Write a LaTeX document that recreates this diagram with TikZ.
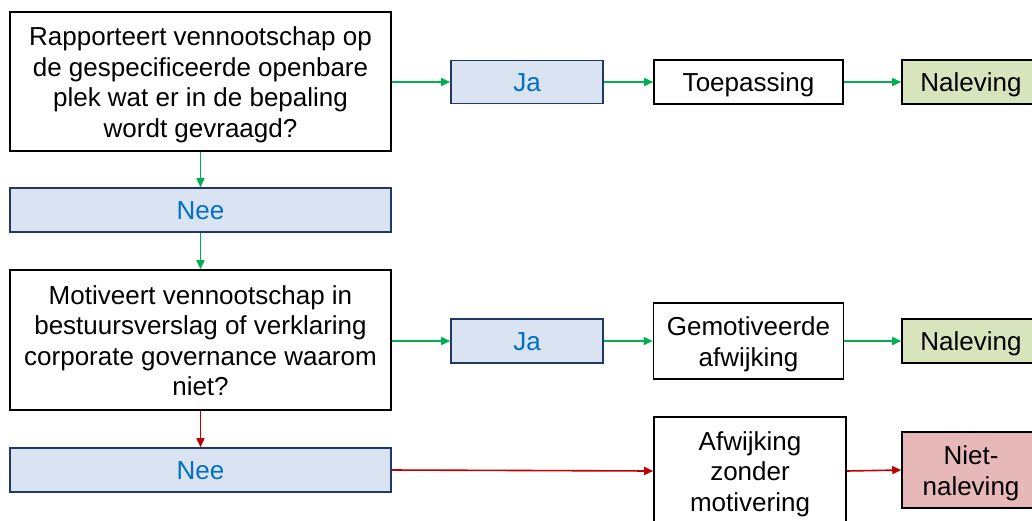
\documentclass[tikz,border=0pt]{standalone}
\usepackage{fontspec}
\setmainfont{Liberation Sans}
\usetikzlibrary{arrows.meta}
\definecolor{boxblue}{RGB}{218,227,242}
\definecolor{navy}{RGB}{31,56,100}
\definecolor{txtblue}{RGB}{0,112,192}
\definecolor{okgreen}{RGB}{216,228,188}
\definecolor{badred}{RGB}{230,184,183}
\definecolor{arrgreen}{RGB}{0,176,80}
\definecolor{arrred}{RGB}{192,0,0}
\newcommand{\tstrut}{\rule{0pt}{25pt}}
\newcommand{\bstrut}{\rule[-5.5pt]{0pt}{5.5pt}}
\tikzset{
  base/.style={draw, rectangle, line width=1.6pt, inner sep=2pt, align=center,
    font=\fontsize{26}{30.5}\selectfont},
  question/.style={base, fill=white, minimum width=381pt},
  answer/.style={base, draw=navy, fill=boxblue, text=txtblue},
  result/.style={base, fill=white},
  good/.style={base, fill=okgreen},
  bad/.style={base, fill=badred},
  garr/.style={-{Triangle[length=9pt,width=8pt]}, draw=arrgreen, line width=1.6pt},
  rarr/.style={-{Triangle[length=9pt,width=8pt]}, draw=arrred, line width=1.6pt},
}
\begin{document}
\begin{tikzpicture}[x=1pt,y=-1pt]
\useasboundingbox (0,0) rectangle (1032,520);
\begin{scope}
\clip (0,0) rectangle (1032,520);
\node[question, minimum height=139pt] (q1) at (200.5,81.5) {\tstrut Rapporteert vennootschap op\\de gespecificeerde openbare\\plek wat er in de bepaling\\wordt gevraagd?\bstrut};
\node[answer, minimum width=152pt, minimum height=43pt] (ja1) at (527,82) {\tstrut Ja\bstrut};
\node[result, minimum width=189pt, minimum height=44pt] (toep) at (748.5,82) {\tstrut Toepassing\bstrut};
\node[good, minimum width=138pt, minimum height=44pt] (nal1) at (971,82) {\tstrut Naleving\bstrut};
\node[answer, minimum width=381pt, minimum height=44pt] (nee1) at (200.5,210) {\tstrut Nee\bstrut};
\node[question, minimum height=140pt] (q2) at (200.5,340) {\tstrut Motiveert vennootschap in\\bestuursverslag of verklaring\\corporate governance waarom\\niet?\bstrut};
\node[answer, minimum width=152pt, minimum height=44pt] (ja2) at (527,341) {\tstrut Ja\bstrut};
\node[result, minimum width=190pt, minimum height=76pt] (gem) at (748.5,341) {\tstrut Gemotiveerde\\afwijking\bstrut};
\node[good, minimum width=138pt, minimum height=44pt] (nal2) at (971,341) {\tstrut Naleving\bstrut};
\node[answer, minimum width=381pt, minimum height=44pt] (nee2) at (200.5,470) {\tstrut Nee\bstrut};
\node[result, minimum width=192pt, minimum height=108pt] (afw) at (750,471) {\tstrut Afwijking\\zonder\\motivering\bstrut};
\node[bad, minimum width=138pt, minimum height=76pt] (niet) at (971,470) {\tstrut Niet-\\naleving\bstrut};
\end{scope}
\draw[garr] (q1.east |- ja1.west) -- (ja1.west);
\draw[garr] (ja1.east) -- (toep.west |- ja1.east);
\draw[garr] (toep.east) -- (nal1.west);
\draw[garr] (q1.south) -- (nee1.north);
\draw[garr] (nee1.south) -- (q2.north);
\draw[garr] (q2.east |- ja2.west) -- (ja2.west);
\draw[garr] (ja2.east) -- (gem.west |- ja2.east);
\draw[garr] (gem.east) -- (nal2.west |- gem.east);
\draw[rarr] (q2.south) -- (nee2.north);
\draw[rarr] (nee2.east) -- (afw.west);
\draw[rarr] (afw.east) -- (niet.west);
\end{tikzpicture}
\end{document}
